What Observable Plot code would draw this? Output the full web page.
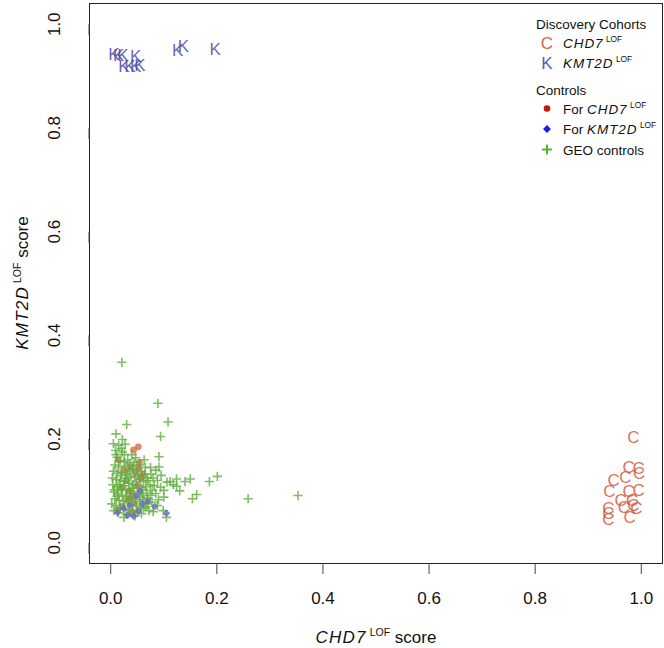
<!DOCTYPE html>
<html>
<head>
<meta charset="utf-8">
<script src="https://cdn.jsdelivr.net/npm/d3@7"></script>
<script src="https://cdn.jsdelivr.net/npm/@observablehq/plot@0.6"></script>
<style>
  html, body { margin: 0; padding: 0; background: #fff; }
  #chart svg { display: block; }
</style>
</head>
<body>
<div id="chart"></div>
<script>
// ---- Data ----
const axisTicks = [0, 0.2, 0.4, 0.6, 0.8, 1.0];

// Discovery cohort: KMT2D LOF (plotted as "K")
const kmtX = [0.006, 0.015, 0.023, 0.047, 0.025, 0.036, 0.047, 0.055, 0.126, 0.137, 0.197];
const kmtY = [0.942, 0.940, 0.940, 0.938, 0.919, 0.918, 0.918, 0.921, 0.950, 0.957, 0.951];

// Discovery cohort: CHD7 LOF (plotted as "C")
const chdX = [0.985, 0.976, 0.995, 0.996, 0.948, 0.970, 0.940, 0.976, 0.995, 0.961, 0.983, 0.967, 0.985, 0.991, 0.938, 0.938, 0.938, 0.978];
const chdY = [0.203, 0.145, 0.143, 0.134, 0.120, 0.126, 0.099, 0.099, 0.101, 0.082, 0.082, 0.068, 0.072, 0.066, 0.066, 0.057, 0.045, 0.049];

// Controls for CHD7 LOF (circles)
const ctlChdX = [0.043, 0.052, 0.014, 0.054, 0.052, 0.038, 0.046, 0.030, 0.050, 0.022, 0.013, 0.040, 0.057, 0.035, 0.045, 0.060, 0.025, 0.040, 0.020, 0.032];
const ctlChdY = [0.179, 0.185, 0.160, 0.155, 0.146, 0.146, 0.135, 0.120, 0.110, 0.070, 0.063, 0.090, 0.125, 0.100, 0.076, 0.132, 0.140, 0.060, 0.105, 0.085];

// Controls for KMT2D LOF (diamonds)
const ctlKmtX = [0.013, 0.032, 0.043, 0.052, 0.083, 0.105, 0.024, 0.060, 0.048, 0.036, 0.070, 0.055];
const ctlKmtY = [0.058, 0.053, 0.051, 0.061, 0.070, 0.057, 0.066, 0.075, 0.090, 0.072, 0.080, 0.100];

// GEO controls (plus)
const geoX = [0.005,0.010,0.022,0.027,0.009,0.022,0.030,0.047,0.021,
  0.089,0.108,0.094,0.091,0.091,0.075,0.124,0.124,0.150,0.186,0.201,0.106,0.162,0.154,0.259,0.353,0.100,0.100,0.099,0.105,0.088,0.094,0.078,0.075,0.069,0.062,0.025,0.006,0.088,
  0.012,0.018,0.025,0.032,0.008,0.015,0.028,0.036,0.042,0.050,0.058,0.065,0.005,0.012,0.020,0.030,0.038,0.045,0.055,0.062,0.070,0.080,
  0.003,0.010,0.018,0.026,0.034,0.042,0.050,0.058,0.066,0.074,0.082,0.004,0.012,0.020,0.028,0.036,0.044,0.052,0.060,0.068,0.085,
  0.006,0.014,0.022,0.030,0.038,0.046,0.054,0.062,0.008,0.016,0.024,0.032,0.040,0.048,0.056,0.066,0.078,0.010,0.018,0.026,0.034,
  0.042,0.050,0.072,0.080,0.014,0.030,0.046,0.058,0.020,0.028,0.016,0.024,0.040,0.048,0.035,0.015,0.020,0.010,0.026,0.040,0.054,
  0.060,0.070,0.052,0.065,0.076,0.112,0.118,0.095,0.085,0.007,0.002,0.012,0.038,0.032,0.044,0.063,0.068,0.034,0.056,0.090,0.140,0.130];
const geoY = [0.191,0.210,0.199,0.190,0.178,0.175,0.228,0.164,0.348,
  0.269,0.233,0.205,0.166,0.146,0.145,0.123,0.109,0.123,0.118,0.128,0.117,0.093,0.085,0.085,0.091,0.101,0.088,0.062,0.049,0.120,0.107,0.101,0.091,0.075,0.066,0.049,0.062,0.072,
  0.165,0.158,0.156,0.160,0.150,0.146,0.148,0.152,0.143,0.140,0.138,0.132,0.138,0.134,0.136,0.132,0.128,0.126,0.122,0.118,0.120,0.125,
  0.125,0.122,0.120,0.118,0.115,0.112,0.110,0.106,0.108,0.112,0.110,0.112,0.108,0.105,0.102,0.100,0.098,0.095,0.092,0.096,0.095,
  0.098,0.095,0.092,0.090,0.087,0.084,0.080,0.083,0.085,0.082,0.080,0.077,0.074,0.071,0.068,0.070,0.078,0.072,0.069,0.066,0.063,
  0.060,0.058,0.062,0.060,0.058,0.055,0.052,0.056,0.130,0.125,0.112,0.110,0.105,0.118,0.138,0.188,0.182,0.170,0.170,0.170,0.150,
  0.102,0.086,0.130,0.145,0.132,0.118,0.112,0.130,0.140,0.102,0.075,0.090,0.095,0.141,0.155,0.160,0.125,0.082,0.088,0.083,0.118,0.100];

const toRows = (xs, ys) => xs.map((x, i) => ({x, y: ys[i]}));
const kmtRows = toRows(kmtX, kmtY);
const chdRows = toRows(chdX, chdY);
const ctlChdRows = toRows(ctlChdX, ctlChdY);
const ctlKmtRows = toRows(ctlKmtX, ctlKmtY);
const geoRows = toRows(geoX, geoY);

const FONT = "'Liberation Sans', Arial, Helvetica, sans-serif";

const chart = Plot.plot({
  width: 664,
  height: 648,
  marginLeft: 89,
  marginRight: 2,
  marginTop: 3,
  marginBottom: 85,
  style: {fontFamily: FONT, fontSize: "17px", background: "#fff", color: "#111"},
  x: {domain: [-0.04, 1.04]},
  y: {domain: [-0.04, 1.04]},
  marks: [
    Plot.dot(ctlChdRows, {x: "x", y: "y", r: 3.4, fill: "#db6a48", fillOpacity: 0.8, stroke: "none"}),
    Plot.dot(geoRows, {x: "x", y: "y", symbol: "plus", r: 3.1, stroke: "#5fac3c", strokeWidth: 1.6, strokeOpacity: 0.8}),
    Plot.dot(ctlKmtRows, {x: "x", y: "y", symbol: "diamond2", r: 3.4, fill: "#6d6dc0", fillOpacity: 0.85, stroke: "none"}),
    Plot.text(chdRows, {x: "x", y: "y", text: () => "C", fill: "#d4583c", fillOpacity: 0.85, fontSize: 17, fontFamily: FONT}),
    Plot.text(kmtRows, {x: "x", y: "y", text: () => "K", fill: "#4c4ca2", fillOpacity: 0.85, fontSize: 17, fontFamily: FONT}),
    Plot.frame({stroke: "#222", strokeWidth: 1}),
    Plot.axisX({ticks: axisTicks, tickSize: 11, tickPadding: 17, tickFormat: d => d.toFixed(1), label: null, stroke: "#444", fontSize: 17, fill: "#111"}),
    Plot.axisY({ticks: axisTicks, tickSize: 11, tickPadding: 24, tickFormat: d => d.toFixed(1), label: null, rotate: -90, textAnchor: "middle", lineAnchor: "middle", stroke: "#444", fontSize: 17, fill: "#111"})
  ]
});
document.getElementById("chart").appendChild(chart);

// ---- Axis titles and legend (rich text with italics and superscripts) ----
const svg = d3.select(chart);

function rich(g, parts, size, anchor) {
  const t = g.append("text").attr("font-family", FONT).attr("font-size", size).attr("fill", "#111")
    .attr("text-anchor", anchor || "start");
  let raised = false;
  parts.forEach(p => {
    const ts = t.append("tspan").text(p.t);
    if (p.italic) ts.attr("font-style", "italic").attr("letter-spacing", size * 0.07);
    if (p.sup) {
      ts.attr("font-size", size * 0.62).attr("dy", -size * 0.42).attr("dx", size * 0.18);
      raised = true;
    } else if (raised) {
      ts.attr("dy", size * 0.42);
      raised = false;
    }
  });
  return t;
}

// X axis title
rich(svg.append("g"), [{t: "CHD7", italic: true}, {t: "LOF", sup: true}, {t: " score"}], 17, "middle")
  .attr("x", 376).attr("y", 643);

// Y axis title
rich(svg.append("g").attr("transform", "translate(28,283) rotate(-90)"),
  [{t: "KMT2D", italic: true}, {t: "LOF", sup: true}, {t: " score"}], 17, "middle")
  .attr("x", 0).attr("y", 0);

// Legend
const lg = svg.append("g").attr("text-anchor", "start");
const LF = 13.5;
const textLeft = 563, symX = 547;
const plain = (x, y, s) => lg.append("text").attr("x", x).attr("y", y).attr("text-anchor", "start")
  .attr("font-family", FONT).attr("font-size", LF).attr("fill", "#111").text(s);
const glyph = (y, s, c) => lg.append("text").attr("x", symX).attr("y", y).attr("dy", "0.36em")
  .attr("text-anchor", "middle").attr("font-family", FONT).attr("font-size", 17).attr("fill", c).text(s);

plain(536, 29, "Discovery Cohorts");
glyph(43, "C", "#d9653f");
rich(lg, [{t: "CHD7", italic: true}, {t: "LOF", sup: true}], LF).attr("x", textLeft).attr("y", 48);
glyph(63, "K", "#5e5eaa");
rich(lg, [{t: "KMT2D", italic: true}, {t: "LOF", sup: true}], LF).attr("x", textLeft).attr("y", 68);

plain(536, 95, "Controls");
lg.append("circle").attr("cx", symX).attr("cy", 108.5).attr("r", 3.3).attr("fill", "#cc1111");
rich(lg, [{t: "For "}, {t: "CHD7", italic: true}, {t: "LOF", sup: true}], LF).attr("x", textLeft).attr("y", 113.5);
lg.append("path").attr("d", d3.symbol(d3.symbolDiamond2, 40)()).attr("transform", `translate(${symX},129)`).attr("fill", "#1a1aee");
rich(lg, [{t: "For "}, {t: "KMT2D", italic: true}, {t: "LOF", sup: true}], LF).attr("x", textLeft).attr("y", 134);
lg.append("path").attr("d", "M-5,0H5M0,-5V5").attr("transform", `translate(${symX},149.5)`).attr("stroke", "#55bb22").attr("stroke-width", 2).attr("fill", "none");
plain(textLeft, 154.5, "GEO controls");
</script>
</body>
</html>
